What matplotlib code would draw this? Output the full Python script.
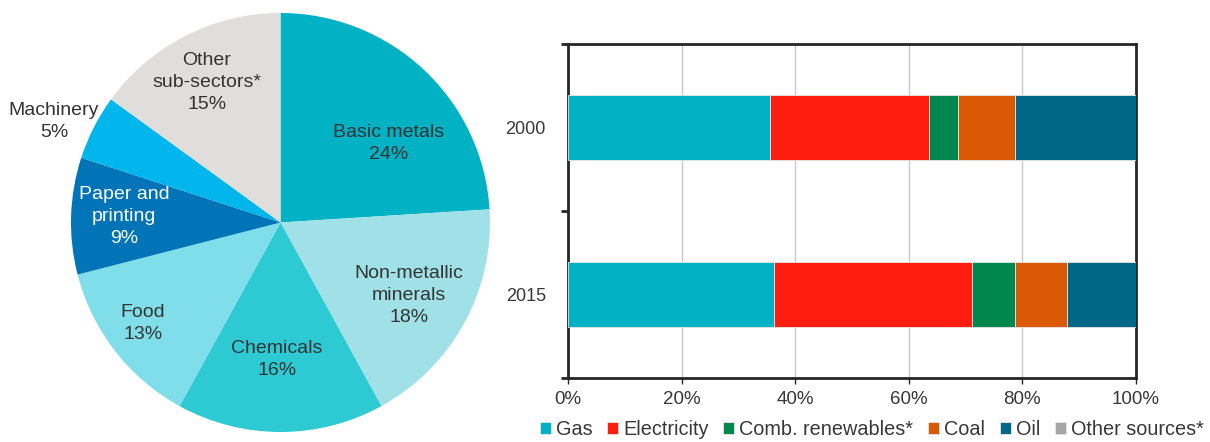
import matplotlib
matplotlib.use("Agg")
import matplotlib.pyplot as plt
import numpy as np

plt.rcParams["font.family"] = ["Liberation Sans", "DejaVu Sans"]

# Industry energy use by sub-sector (share, %)
sectors = ["Basic metals", "Non-metallic\nminerals", "Chemicals", "Food",
           "Paper and\nprinting", "Machinery", "Other\nsub-sectors*"]
sector_share = [24, 18, 16, 13, 9, 5, 15]
sector_colors = ["#00B2C3", "#A0E1E7", "#2DCAD3", "#7FDEE9",
                 "#0074B6", "#00B6EC", "#DFDEDD"]
label_pos = [(0.515, 0.377), (0.614, -0.348), (-0.017, -0.654), (-0.657, -0.482),
             (-0.747, 0.029), (-1.081, 0.482), (-0.351, 0.668)]
label_color = ["#333333", "#333333", "#333333", "#333333",
               "white", "#333333", "#333333"]

# Fuel mix by year (share, %)
years = ["2000", "2015"]
fuels = ["Gas", "Electricity", "Comb. renewables*", "Coal", "Oil", "Other sources*"]
gas = [35.6, 36.3]
electricity = [28.0, 34.9]
renewables = [5.1, 7.5]
coal = [10.0, 9.1]
oil = [21.3, 12.2]
other = [0.0, 0.0]
fuel_colors = ["#00B2C3", "#FF1D10", "#00874D", "#D95904", "#006886", "#A5A5A5"]

fig = plt.figure(figsize=(12.1, 4.42), dpi=100)

# Pie chart
axp = fig.add_axes([71 / 1210, 10 / 442, 419 / 1210, 419 / 442])
axp.pie(sector_share, colors=sector_colors, startangle=90, counterclock=False,
        radius=1.0, wedgeprops=dict(linewidth=0))
for name, share, (px, py), c in zip(sectors, sector_share, label_pos, label_color):
    axp.text(px, py, f"{name}\n{share}%", ha="center", va="center",
             fontsize=14, color=c, linespacing=1.38)
axp.set_xlim(-1, 1)
axp.set_ylim(-1, 1)
axp.set_aspect("equal")
axp.axis("off")

# Stacked horizontal bars
axb = fig.add_axes([568 / 1210, 64 / 442, 568 / 1210, 334 / 442])
ypos = np.arange(len(years))
left = np.zeros(len(years))
for vals, name, col in zip([gas, electricity, renewables, coal, oil, other],
                           fuels, fuel_colors):
    vals = np.array(vals)
    axb.barh(ypos, vals, left=left, height=0.39, color=col, label=name,
             edgecolor="#E6E6E6", linewidth=0.6, zorder=3)
    left += vals

axb.set_xlim(0, 100)
axb.set_ylim(1.5, -0.5)
axb.set_yticks(ypos)
axb.set_yticklabels(years)
axb.set_yticks([-0.5, 0.5, 1.5], minor=True)
axb.tick_params(axis="y", which="major", length=0, pad=16, labelsize=13,
                labelcolor="#383838")
axb.tick_params(axis="y", which="minor", length=5, width=2, color="#262626")
axb.set_xticks(np.arange(0, 101, 20))
axb.set_xticklabels([f"{v}%" for v in range(0, 101, 20)])
axb.tick_params(axis="x", length=4, width=1, color="#262626", labelsize=13.5,
                labelcolor="#383838", pad=5)
axb.grid(axis="x", color="#C8C8C8", linewidth=1, zorder=0)
axb.set_axisbelow(True)
for sp in axb.spines.values():
    sp.set_linewidth(2)
    sp.set_color("#262626")

axb.legend(loc="center", bbox_to_anchor=(0.535, -0.155), ncol=6, frameon=False,
           fontsize=14.3, handlelength=0.55, handleheight=0.55, handletextpad=0.25,
           columnspacing=0.75, labelcolor="#383838", borderaxespad=0,
           borderpad=0)

fig.savefig("out.png", dpi=100)
